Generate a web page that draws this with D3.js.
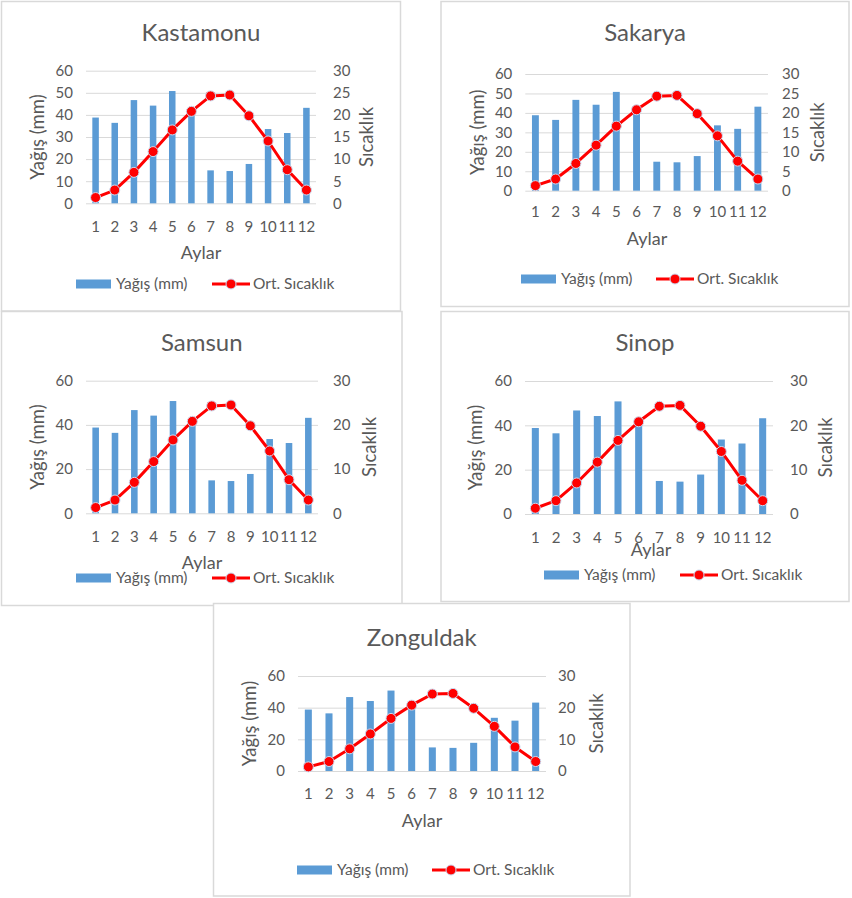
<!DOCTYPE html>
<html><head><meta charset="utf-8">
<script src="https://cdn.jsdelivr.net/npm/d3@7"></script>
<style>
html,body{margin:0;padding:0;background:#fff;}
svg{display:block;}
text{font-family:Lato,"Open Sans",sans-serif;fill:#595959;}
</style></head>
<body>
<svg id="chart" width="852" height="898"></svg>
<script>
// ---- data ----
const months = ["1","2","3","4","5","6","7","8","9","10","11","12"];
const rainfall = [38.8, 36.4, 46.7, 44.2, 50.8, 40.5, 14.9, 14.6, 17.8, 33.6, 31.8, 43.2];
const temperature = [1.3, 3.0, 7.0, 11.7, 16.6, 20.8, 24.3, 24.5, 19.8, 14.1, 7.6, 3.0];
const cities = ["Kastamonu", "Sakarya", "Samsun", "Sinop", "Zonguldak"];
const leftTicksFine = [0, 10, 20, 30, 40, 50, 60];
const leftTicksCoarse = [0, 20, 40, 60];
const rightTicksFine = [0, 5, 10, 15, 20, 25, 30];
const rightTicksCoarse = [0, 10, 20, 30];
const xAxisTitle = "Aylar";
const leftAxisTitle = "Yağış (mm)";
const rightAxisTitle = "Sıcaklık";
const barLegend = "Yağış (mm)";
const lineLegend = "Ort. Sıcaklık";

// ---- layout (positions only) ----
const panels = [
  {city: 0, fine: true,  box: [1.5, 1.5, 400.5, 311], plot: [86, 70.7, 316, 203.3], titleY: 33,
   yTitleX: 38, yTitleRX: 367, xLabY: 227, aylarY: 253, aylarX: 201, legY: 284, legBar: 76, legLine: 212, rPad: 17},
  {city: 1, fine: true,  box: [441, 1.5, 849, 306.5], plot: [525.3, 74, 768, 190.7], titleY: 33,
   yTitleX: 478, yTitleRX: 818, xLabY: 212, aylarY: 239, aylarX: 647, legY: 279, legBar: 521, legLine: 656, rPad: 14},
  {city: 2, fine: false, box: [1.5, 311.5, 402, 605.5], plot: [86, 380.7, 318, 513.3], titleY: 343,
   yTitleX: 38, yTitleRX: 370, xLabY: 537, aylarY: 563, aylarX: 202, legY: 578, legBar: 76, legLine: 212, rPad: 15},
  {city: 3, fine: false, box: [441, 311.5, 849, 601.5], plot: [525, 381, 773, 514], titleY: 343,
   yTitleX: 476, yTitleRX: 826, xLabY: 538, aylarY: 550, aylarX: 651, legY: 575, legBar: 544, legLine: 680, rPad: 17},
  {city: 4, fine: false, box: [213.5, 603.5, 630, 896], plot: [298, 676, 546, 771], titleY: 638,
   yTitleX: 250, yTitleRX: 597, xLabY: 794, aylarY: 821, aylarX: 422, legY: 870, legBar: 297, legLine: 432, rPad: 12}
];

const svg = d3.select("#chart");
const barColor = "#5B9BD5", lineColor = "#FF0000", gridColor = "#D9D9D9", borderColor = "#D9D9D9";

panels.forEach(p => {
  const g = svg.append("g");
  const [bx0, by0, bx1, by1] = p.box;
  g.append("rect").attr("x", bx0).attr("y", by0).attr("width", bx1 - bx0).attr("height", by1 - by0)
    .attr("fill", "#fff").attr("stroke", borderColor).attr("stroke-width", 1.5);

  const [px0, py0, px1, py1] = p.plot;
  const w = px1 - px0;
  const x = d3.scaleBand().domain(months).range([px0, px1]).padding(0);
  const yL = d3.scaleLinear().domain([0, 60]).range([py1, py0]);
  const yR = d3.scaleLinear().domain([0, 30]).range([py1, py0]);
  const lt = p.fine ? leftTicksFine : leftTicksCoarse;
  const rt = p.fine ? rightTicksFine : rightTicksCoarse;

  // title
  g.append("text").attr("x", (bx0 + bx1) / 2).attr("y", p.titleY).attr("dy", "0.35em")
    .attr("text-anchor", "middle").style("font-size", "24px").text(cities[p.city]);

  // left axis with gridlines
  const la = g.append("g").attr("transform", `translate(${px0},0)`)
    .call(d3.axisLeft(yL).tickValues(lt).tickSize(-w).tickPadding(13).tickFormat(d3.format("d")));
  la.select(".domain").remove();
  la.selectAll(".tick line").attr("stroke", gridColor).attr("stroke-width", 1);
  la.selectAll(".tick text").style("font-size", "15px").attr("fill", "#595959");

  // right axis
  const ra = g.append("g").attr("transform", `translate(${px1},0)`)
    .call(d3.axisRight(yR).tickValues(rt).tickSize(0).tickPadding(p.rPad).tickFormat(d3.format("d")));
  ra.select(".domain").remove();
  ra.selectAll(".tick text").style("font-size", "15px").attr("fill", "#595959");

  // x axis labels
  const xa = g.append("g").attr("transform", `translate(0,${p.xLabY})`)
    .call(d3.axisBottom(x).tickSize(0).tickPadding(0));
  xa.select(".domain").remove();
  xa.selectAll(".tick text").attr("dy", "0.35em").style("font-size", "15px").attr("fill", "#595959");

  // bars
  const bw = x.bandwidth() * 0.34;
  g.append("g").selectAll("rect").data(rainfall).join("rect")
    .attr("x", (d, i) => x(months[i]) + (x.bandwidth() - bw) / 2)
    .attr("y", d => yL(d)).attr("width", bw).attr("height", d => yL(0) - yL(d))
    .attr("fill", barColor);

  // line
  const line = d3.line().x((d, i) => x(months[i]) + x.bandwidth() / 2).y(d => yR(d));
  g.append("path").datum(temperature).attr("d", line).attr("fill", "none")
    .attr("stroke", lineColor).attr("stroke-width", 3).attr("stroke-linejoin", "round");
  g.append("g").selectAll("circle").data(temperature).join("circle")
    .attr("cx", (d, i) => x(months[i]) + x.bandwidth() / 2).attr("cy", d => yR(d)).attr("r", 5)
    .attr("fill", lineColor).attr("stroke", "#C9DAF0").attr("stroke-width", 1);

  // axis titles
  g.append("text").attr("transform", `translate(${p.yTitleX},${(py0 + py1) / 2}) rotate(-90)`)
    .attr("text-anchor", "middle").attr("dy", "0.35em").style("font-size", "18.5px").text(leftAxisTitle);
  g.append("text").attr("transform", `translate(${p.yTitleRX},${(py0 + py1) / 2}) rotate(-90)`)
    .attr("text-anchor", "middle").attr("dy", "0.35em").style("font-size", "18.5px").text(rightAxisTitle);
  g.append("text").attr("x", p.aylarX).attr("y", p.aylarY).attr("dy", "0.35em")
    .attr("text-anchor", "middle").style("font-size", "18px").text(xAxisTitle);

  // legend
  g.append("rect").attr("x", p.legBar).attr("y", p.legY - 4.5).attr("width", 35).attr("height", 9).attr("fill", barColor);
  g.append("text").attr("x", p.legBar + 40).attr("y", p.legY).attr("dy", "0.35em").style("font-size", "15.5px").text(barLegend);
  g.append("line").attr("x1", p.legLine).attr("x2", p.legLine + 38).attr("y1", p.legY).attr("y2", p.legY)
    .attr("stroke", lineColor).attr("stroke-width", 3);
  g.append("circle").attr("cx", p.legLine + 19).attr("cy", p.legY).attr("r", 5)
    .attr("fill", lineColor).attr("stroke", "#C9DAF0").attr("stroke-width", 1);
  g.append("text").attr("x", p.legLine + 41).attr("y", p.legY).attr("dy", "0.35em").style("font-size", "15.5px").text(lineLegend);
});
</script>
</body></html>
